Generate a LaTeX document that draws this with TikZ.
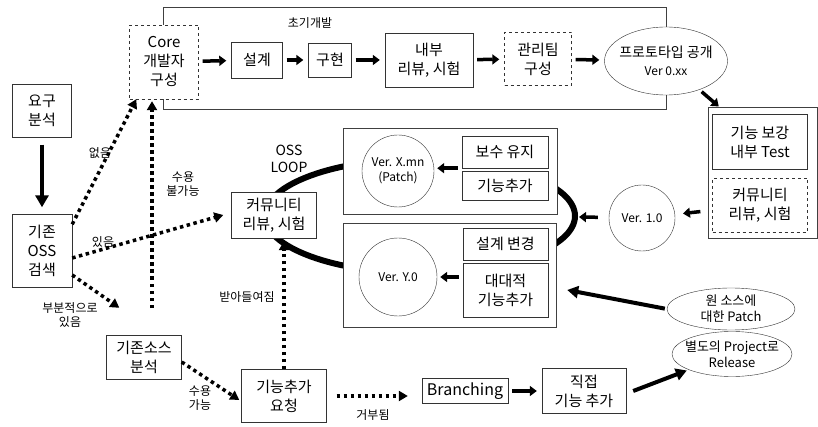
\documentclass[tikz,border=0pt]{standalone}
\usepackage{fontspec}
\setmainfont{Noto Sans CJK KR}
\usetikzlibrary{positioning,shapes.geometric,arrows.meta}

\begin{document}
\begin{tikzpicture}[x=1pt,y=-1pt,
  box/.style={draw=black!80, fill=white, align=center, inner sep=1pt, font=\fontsize{15}{19}\selectfont},
  dbox/.style={box, dashed},
  frame/.style={draw=black!75, fill=white, line width=0.8pt},
  ver/.style={draw=black!80, circle, fill=white, align=center, inner sep=0pt, font=\fontsize{12}{15}\selectfont},
  oval/.style={draw=black!80, ellipse, fill=white, align=center, inner xsep=-16pt, inner ysep=-3pt, font=\fontsize{13}{16}\selectfont},
  fat/.style={line width=3.5pt, -{Triangle[length=7pt,width=10pt]}, shorten <=4pt, shorten >=5pt},
  dots/.style={line width=3.5pt, dash pattern=on 3.5pt off 3.5pt, -{Triangle[length=9pt,width=10pt]}},
  lbl/.style={font=\fontsize{12}{14}\selectfont, align=center, inner sep=1pt}
]
\useasboundingbox (0,0) rectangle (818,427);
\draw[frame] (163,7) rectangle (666,109);
\node[lbl] (early) at (310,23) {초기개발};
\draw[line width=6pt] (420,216) ellipse [x radius=155pt, y radius=57pt];
\draw[frame] (343,128) rectangle (557,214);
\draw[frame] (343,223) rectangle (556,327);
\draw[frame] (708,107) rectangle (817,238);

\node[box, minimum width=59, minimum height=53] (yogu) at (42,111) {요구\\분석};
\node[box, minimum width=60, minimum height=73] (search) at (42,251) {기존\\OSS\\검색};
\node[dbox, minimum width=69, minimum height=74] (core) at (164,62) {Core\\개발자\\구성};
\node[box, minimum width=51, minimum height=36] (design) at (257,60) {설계};
\node[box, minimum width=43, minimum height=34] (impl) at (330,60) {구현};
\node[box, minimum width=88, minimum height=54] (inner) at (429,60) {내부\\리뷰, 시험};
\node[dbox, minimum width=67, minimum height=53] (mgmt) at (538,59) {관리팀\\구성};
\node[oval, minimum width=123, minimum height=68, font=\fontsize{14}{18}\selectfont] (proto) at (666,61) {프로토타입 공개\\{\fontsize{12}{14}\selectfont Ver 0.xx}};

\node[box, minimum width=95, minimum height=55] (enh) at (760,142) {기능 보강\\내부 Test};
\node[dbox, minimum width=95, minimum height=54] (crev) at (760,205) {커뮤니티\\리뷰, 시험};
\node[ver, minimum size=66] (v10) at (642,218) {Ver. 1.0};

\node[lbl, font=\fontsize{14}{17}\selectfont] (loop) at (289,159) {OSS\\LOOP};
\node[box, minimum width=85, minimum height=46] (comm) at (274,215) {커뮤니티\\리뷰, 시험};
\node[ver, minimum size=72] (xmn) at (398,171) {Ver. X.mn\\(Patch)};
\node[box, minimum width=86, minimum height=32] (maint) at (505,152) {보수 유지};
\node[box, minimum width=86, minimum height=29] (fadd) at (505,185.5) {기능추가};
\node[ver, minimum size=78] (y0) at (398,277) {Ver. Y.0};
\node[box, minimum width=85, minimum height=32] (redes) at (505.5,244) {설계 변경};
\node[box, minimum width=85, minimum height=54] (major) at (505.5,290) {대대적\\기능추가};
\coordinate (loopE) at (579,217);

\node[box, minimum width=75, minimum height=44] (srcan) at (144,357) {기존소스\\분석};
\node[box, minimum width=85, minimum height=53] (req) at (284,396) {기능추가\\요청};
\node[box, minimum width=86, minimum height=25, font=\fontsize{16}{19}\selectfont] (branch) at (465,391) {Branching};
\node[box, minimum width=84, minimum height=45] (direct) at (584,391) {직접\\기능 추가};
\node[oval, minimum width=128, minimum height=42] (patch) at (731,309) {원 소스에\\대한 Patch};
\node[oval, minimum width=120, minimum height=45] (rel) at (732,354) {별도의 Project로\\Release};
\coordinate (rej) at (152,308);

\draw[line width=4pt, -{Triangle[length=12pt,width=13pt]}, shorten <=7pt, shorten >=7pt] (yogu) -- (search);
\draw[fat] (core) -- (design);
\draw[fat] (design) -- (impl);
\draw[fat] (impl) -- (inner);
\draw[fat] (inner) -- (mgmt);
\draw[fat] (mgmt) -- (proto);
\draw[fat, shorten <=3pt, shorten >=12pt] (proto) -- (enh);
\draw[fat, shorten <=12pt, shorten >=8pt] (crev) -- (v10);
\draw[fat, shorten <=11pt, shorten >=0pt] (v10) -- (loopE);
\draw[fat, shorten >=3pt] (maint.south west) -- (maint.south west -| xmn.east);
\draw[fat, shorten >=3pt] (y0.east -| major.west) -- (y0.east);
\draw[fat] (branch) -- (direct);
\draw[line width=4pt, -{Triangle[length=11pt,width=12pt]}, shorten <=2pt] (patch.west) -- ([xshift=19pt]major.east);
\draw[line width=4pt, -{Triangle[length=11pt,width=12pt]}, shorten >=2pt] ([xshift=7pt]direct.east) -- (rel.200);

\draw[dots] ([yshift=-10pt]search.north east) -- ([xshift=7pt]core.south west);
\draw[dots] ([yshift=-7pt]search.east) -- ([xshift=-8pt]comm.west);
\draw[dots] ([yshift=-24pt]search.east) -- ([xshift=13pt,yshift=27pt]srcan.north west);
\draw[dots, shorten >=2pt] (rej) -- (rej |- core.south);
\draw[dots] ([yshift=-5pt]srcan.east) -- ([xshift=-2pt,yshift=-4pt]req.west);
\draw[dots, shorten >=3pt] (req.north) -- (req.north |- comm.south);
\draw[dots, shorten <=10pt, shorten >=14pt] (req.east) -- (req.east -| branch.west);

\node[lbl] (l1) at (100,153) {없음};
\node[lbl] (l2) at (183,184) {수용\\불가능};
\node[lbl] (l3) at (103,242) {있음};
\node[lbl] (l4) at (70,315) {부분적으로\\있음};
\node[lbl] (l5) at (200,398) {수용\\가능};
\node[lbl] (l6) at (247,297) {받아들여짐};
\node[lbl] (l7) at (373,415) {거부됨};
\end{tikzpicture}
\end{document}
